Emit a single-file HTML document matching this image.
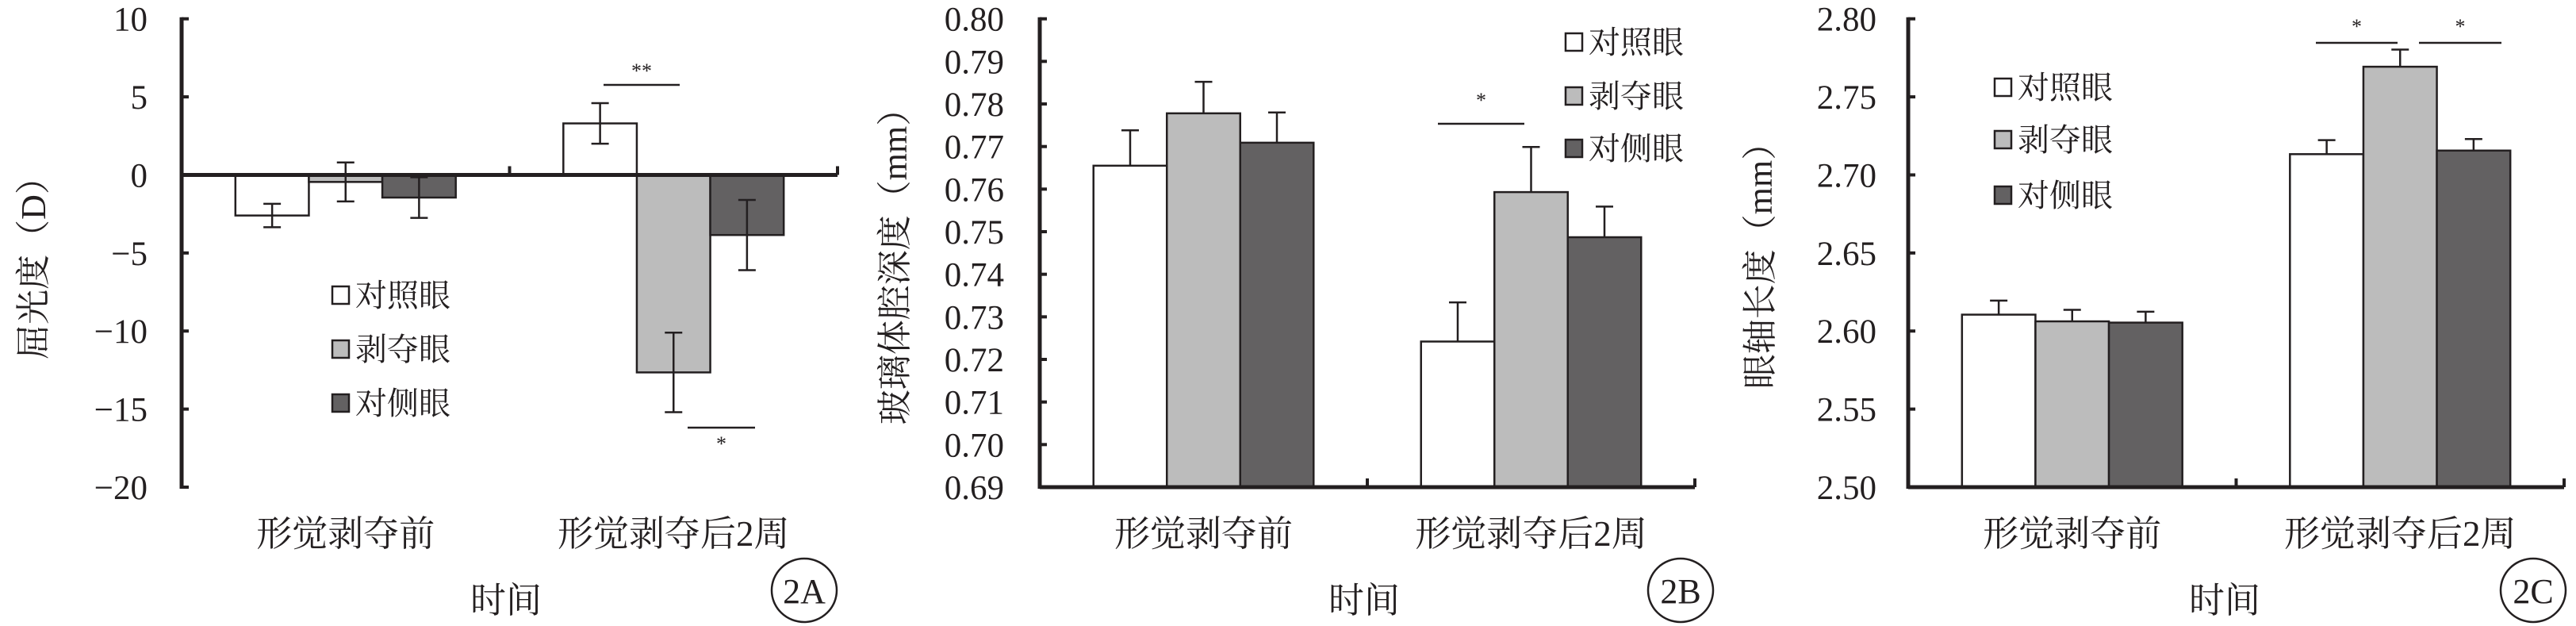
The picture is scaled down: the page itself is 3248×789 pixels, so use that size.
<!DOCTYPE html>
<html><head><meta charset="utf-8">
<style>
html,body{margin:0;padding:0;background:#fff;}
svg{display:block;}
text{font-family:"Liberation Serif","Noto Serif CJK SC",serif;fill:#231f20;}
</style></head>
<body>
<svg id="chart" width="3248" height="789" viewBox="0 0 3248 789" xmlns="http://www.w3.org/2000/svg"></svg>
<script>
const NS='http://www.w3.org/2000/svg';
const categories=['形觉剥夺前','形觉剥夺后2周'];
const seriesNames=['对照眼','剥夺眼','对侧眼'];
const seriesColors=['#ffffff','#bcbcbc','#636162'];
// Panel A: refraction (D)
const aValues=[[-2.6,3.3],[-0.45,-12.65],[-1.45,-3.85]];
const aErrors=[[0.75,1.3],[1.25,2.55],[1.3,2.25]];
const aTicks=['10','5','0','−5','−10','−15','−20'];
// Panel B: vitreous depth (mm)
const bValues=[[0.7655,0.7242],[0.7778,0.7593],[0.7709,0.7487]];
const bErrors=[[0.0083,0.0092],[0.0074,0.0106],[0.0071,0.0072]];
const bTicks=['0.80','0.79','0.78','0.77','0.76','0.75','0.74','0.73','0.72','0.71','0.70','0.69'];
// Panel C: axial length (mm)
const cValues=[[2.6105,2.7133],[2.6062,2.7693],[2.6054,2.7156]];
const cErrors=[[0.009,0.009],[0.0074,0.011],[0.007,0.0074]];
const cTicks=['2.80','2.75','2.70','2.65','2.60','2.55','2.50'];

const svg=document.getElementById('chart');
function mk(tag,attrs,parent){const e=document.createElementNS(NS,tag);for(const k in attrs)e.setAttribute(k,attrs[k]);(parent||svg).appendChild(e);return e;}

function panel(o){
  const g=mk('g',{});
  
  
  const top=23.7,bot=614;
  const y=v=>top+(o.max-v)/(o.max-o.min)*(bot-top);
  const baseY=y(o.base);
  const catW=(o.xEnd-o.axisX)/categories.length;
  const barW=catW*0.224;
  // bars
  for(let s=0;s<seriesNames.length;s++){
    for(let c=0;c<categories.length;c++){
      const cx=o.axisX+catW*(c+0.5);
      const x0=cx-1.5*barW+s*barW;
      const v=o.values[s][c];
      const yv=y(v);
      const r=mk('rect',{x:x0,y:Math.min(yv,baseY),width:barW,height:Math.abs(baseY-yv),fill:seriesColors[s],stroke:'#231f20','stroke-width':2.5},g);
      
      
      const e=o.errors[s][c];
      const xm=x0+barW/2;
      const y1=y(v+(v>=0?e:-e));
      const y2=o.twoSided?y(v-(v>=0?e:-e)):yv;
      const eb=mk('g',{stroke:'#231f20','stroke-width':2.5},g);
      
      
      mk('line',{x1:xm,x2:xm,y1:y1,y2:y2},eb);
      mk('line',{x1:xm-11,x2:xm+11,y1:y1,y2:y1},eb);
      if(o.twoSided)mk('line',{x1:xm-11,x2:xm+11,y1:y2,y2:y2},eb);
    }
  }
  // axes
  const ax=mk('g',{stroke:'#231f20','stroke-width':5},g);
  
  
  mk('line',{x1:o.axisX,x2:o.axisX,y1:top-2,y2:bot+2},ax);
  mk('line',{x1:o.axisX,x2:o.xEnd,y1:baseY,y2:baseY},ax);
  for(let c=1;c<=categories.length;c++){
    const tx=o.axisX+catW*c;
    mk('line',{x1:tx,x2:tx,y1:baseY,y2:baseY-11,'stroke-width':4},ax);
  }
  o.ticks.forEach((t,i)=>{
    const v=o.max-i*(o.max-o.min)/(o.ticks.length-1);
    const ty=y(v);
    mk('line',{x1:o.axisX,x2:o.axisX+9,y1:ty,y2:ty,'stroke-width':4},ax);
    const tl=mk('text',{x:o.tickRight,y:ty+15,'text-anchor':'end','font-size':43},g);
    tl.textContent=t;
    
    
  });
  // category labels
  categories.forEach((cat,c)=>{
    const t=mk('text',{x:o.axisX+catW*(c+0.5),y:688,'text-anchor':'middle','font-size':45},g);
    t.textContent=cat;
    
    
  });
  const xt=mk('text',{x:o.xtX,y:772,'text-anchor':'middle','font-size':45},g);
  xt.textContent='时间';
  
  
  const yt=mk('text',{x:0,y:0,'text-anchor':'middle','font-size':44,transform:'translate('+(o.ytX+15)+','+o.ytY+') rotate(-90)'},g);
  yt.textContent=o.yTitle;
  
  
  // panel label
  const pl=mk('g',{},g);
  
  
  mk('ellipse',{cx:o.lblX,cy:744,rx:41,ry:40,fill:'none',stroke:'#231f20','stroke-width':2.5},pl);
  const plt=mk('text',{x:o.lblX,y:760,'text-anchor':'middle','font-size':44},pl);
  plt.textContent=o.lbl;
  // legend
  seriesNames.forEach((n,s)=>{
    const lg=mk('g',{},g);
    
    
    const ly=o.legY[s];
    mk('rect',{x:o.legX,y:ly-11,width:21,height:22,fill:seriesColors[s],stroke:'#231f20','stroke-width':2.5},lg);
    const lt=mk('text',{x:o.legX+29,y:ly+14,'font-size':40},lg);
    lt.textContent=n;
  });
  // significance
  o.sig.forEach(sg=>{
    const sgG=mk('g',{},g);
    
    
    mk('line',{x1:sg[0],x2:sg[1],y1:sg[2],y2:sg[2],stroke:'#231f20','stroke-width':2.5},sgG);
    const st=mk('text',{x:(sg[0]+sg[1])/2,y:sg[3],'text-anchor':'middle','font-size':26},sgG);
    st.textContent=sg[4];
  });
}

panel({id:'panel-a',min:-20,max:10,base:0,values:aValues,errors:aErrors,ticks:aTicks,twoSided:true,
  axisX:229,xEnd:1056,tickRight:186,xtX:638,ytX:42,ytY:327,yTitle:'屈光度（D）',lblX:1014,lbl:'2A',
  legX:419,legY:[372,440,508],sig:[[761,857,107,98,'**'],[867,952,539,568,'*']]});
panel({id:'panel-b',min:0.69,max:0.80,base:0.69,values:bValues,errors:bErrors,ticks:bTicks,twoSided:false,
  axisX:1311,xEnd:2137,tickRight:1266,xtX:1720,ytX:1128,ytY:325,yTitle:'玻璃体腔深度（mm）',lblX:2119,lbl:'2B',
  legX:1974,legY:[53,121,187],sig:[[1813,1922,156,135,'*']]});
panel({id:'panel-c',min:2.50,max:2.80,base:2.50,values:cValues,errors:cErrors,ticks:cTicks,twoSided:false,
  axisX:2406,xEnd:3233,tickRight:2366,xtX:2805,ytX:2219,ytY:324,yTitle:'眼轴长度（mm）',lblX:3194,lbl:'2C',
  legX:2515,legY:[110,176,246],sig:[[2920,3023,54,42,'*'],[3050,3154,54,42,'*']]});
</script>
</body></html>
